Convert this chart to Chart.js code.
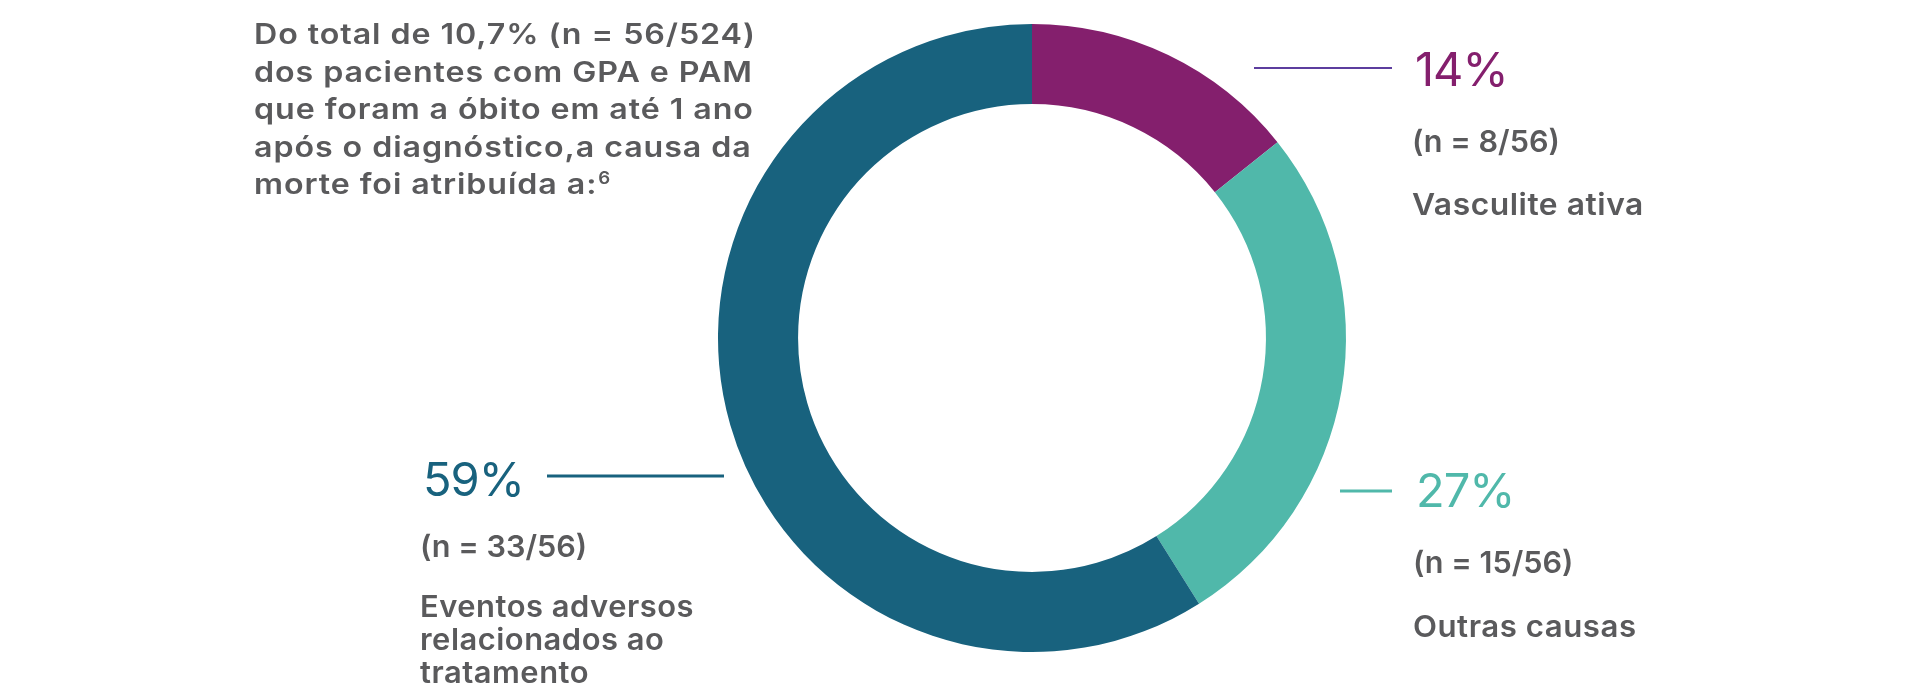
<!DOCTYPE html>
<html lang="pt-BR">
<head>
<meta charset="utf-8">
<title>Causa de óbito em até 1 ano</title>
<script src="https://cdn.jsdelivr.net/npm/chart.js@4.4.1/dist/chart.umd.min.js"></script>
<style>
  html, body { margin: 0; padding: 0; background: #fff; }
  #wrap { position: relative; width: 1908px; height: 689px; }
</style>
</head>
<body>
<div id="wrap"><canvas id="donut" width="1908" height="689"></canvas></div>
<script>
// ── Data ─────────────────────────────────────────────
const categories = ['Vasculite ativa', 'Outras causas', 'Eventos adversos relacionados ao tratamento'];
const counts     = [8, 15, 33];
const total      = 56;
const labelLines = [['Vasculite ativa'], ['Outras causas'], ['Eventos adversos', 'relacionados ao', 'tratamento']];
const titleLines = [
  'Do total de 10,7% (n = 56/524)',
  'dos pacientes com GPA e PAM',
  'que foram a óbito em até 1 ano',
  'após o diagnóstico,a causa da',
  'morte foi atribuída a:'
];
const titleRef = '6';

// ── Style ────────────────────────────────────────────
const C = {
  purple: '#841F6D',
  teal:   '#50B8AA',
  blue:   '#18627E',
  lineP:  '#5C3D9E',
  gray:   '#5A5A5C',
};
const sliceColors = [C.purple, C.teal, C.blue];
const lineColors  = [C.lineP, C.teal, C.blue];
const FONT = "Inter, 'Open Sans', sans-serif";

// label block layout: x, baseline of % text, offsets of the n / category rows, connector
const blocks = [
  { x: 1415, y: 86,  nDy: 66, cDy: 129, sx: 1.06, line: { x1: 1254, x2: 1392, y: 68,  w: 2 } },
  { x: 1416, y: 507, nDy: 66, cDy: 130, sx: 1.04, line: { x1: 1340, x2: 1392, y: 491, w: 3 } },
  { x: 423,  y: 496, nDy: 61, cDy: 121, sx: 1.03, line: { x1: 547,  x2: 724,  y: 476, w: 3 } },
];

// draws text with a horizontal stretch (wide geometric look)
function txt(ctx, s, x, y, sx) {
  ctx.save();
  ctx.translate(x, y);
  ctx.scale(sx, 1);
  ctx.fillText(s, 0, 0);
  const w = ctx.measureText(s).width * sx;
  ctx.restore();
  return w;
}

const labelsPlugin = {
  id: 'labels',
  afterDraw(chart) {
    const ctx = chart.ctx;
    ctx.save();
    ctx.textBaseline = 'alphabetic';
    ctx.textAlign = 'left';

    // title
    ctx.fillStyle = C.gray;
    titleLines.forEach((t, i) => {
      const y = 44 + i * 37.5;
      ctx.font = `600 28px ${FONT}`;
      ctx.letterSpacing = '0.8px';
      const w = txt(ctx, t, 254, y, 1.15);
      if (i === titleLines.length - 1) {
        ctx.font = `600 17px ${FONT}`;
        ctx.letterSpacing = '0px';
        txt(ctx, titleRef, 254 + w + 1, y - 10, 1.1);
      }
    });

    counts.forEach((n, i) => {
      const b = blocks[i];
      // connector
      ctx.strokeStyle = lineColors[i];
      ctx.lineWidth = b.line.w;
      ctx.beginPath();
      ctx.moveTo(b.line.x1, b.line.y);
      ctx.lineTo(b.line.x2, b.line.y);
      ctx.stroke();

      // percent
      ctx.fillStyle = sliceColors[i];
      ctx.font = `400 47px ${FONT}`;
      ctx.letterSpacing = '-1px';
      txt(ctx, Math.round(n / total * 100) + '%', b.x, b.y, 1);

      // n = x/56
      ctx.fillStyle = C.gray;
      ctx.font = `600 30px ${FONT}`;
      ctx.letterSpacing = '0px';
      txt(ctx, `(n = ${n}/${total})`, b.x - 3, b.y + b.nDy, 1.02);

      // category
      ctx.letterSpacing = '0.5px';
      labelLines[i].forEach((t, j) => {
        txt(ctx, t, b.x - 3, b.y + b.cDy + j * 33, b.sx);
      });
    });
    ctx.restore();
  }
};

new Chart(document.getElementById('donut'), {
  type: 'doughnut',
  data: {
    labels: categories,
    datasets: [{
      data: counts,
      backgroundColor: sliceColors,
      borderWidth: 0,
      hoverOffset: 0,
    }],
  },
  options: {
    responsive: false,
    animation: false,
    cutout: '74.5%',
    events: [],
    layout: { padding: { left: 718, right: 562, top: 24, bottom: 37 } },
    plugins: { legend: { display: false }, tooltip: { enabled: false } },
  },
  plugins: [labelsPlugin],
});
</script>
</body>
</html>
